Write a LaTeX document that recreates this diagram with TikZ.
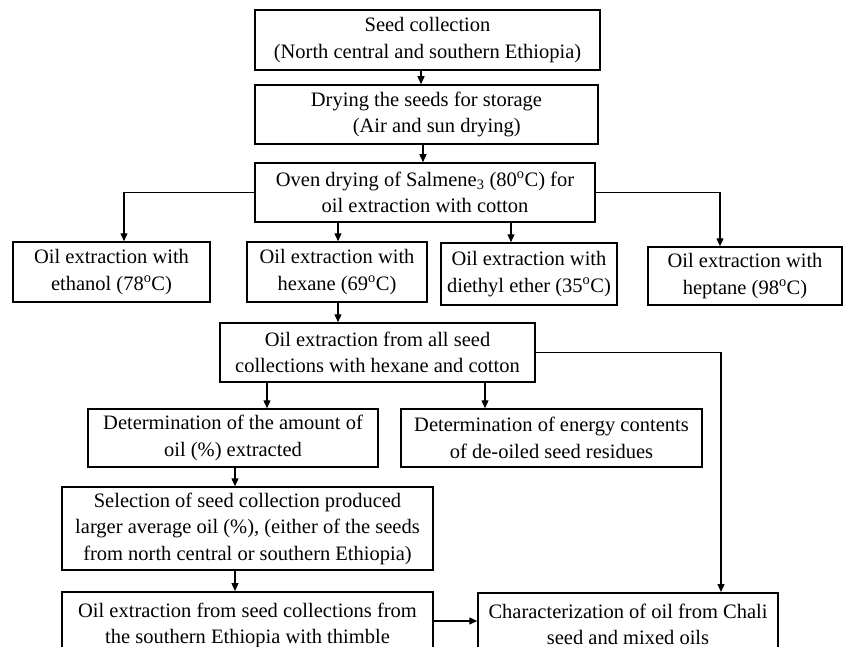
\documentclass[tikz,border=0pt]{standalone}
\usepackage{fontspec}
\setmainfont{Liberation Serif}
\usetikzlibrary{arrows.meta}
\begin{document}
\begin{tikzpicture}[x=1pt,y=-1pt,
  box/.style={draw, line width=1.5pt, align=center, inner sep=2pt, font=\fontsize{20.5}{26.5}\selectfont},
  arr/.style={line width=1.3pt, -{Triangle[length=8pt,width=7pt]}}]
\useasboundingbox (0,0) rectangle (843,647);
\clip (0,0) rectangle (843,647);
\node[box, minimum width=345pt, minimum height=60pt] (seed) at (427.5,40) {Seed collection\\(North central and southern Ethiopia)};
\node[box, minimum width=343pt, minimum height=59pt] (dry) at (426.5,114.5) {Drying the seeds for storage\\ \hspace*{1em}(Air and sun drying)};
\node[box, minimum width=340pt, minimum height=59pt] (oven) at (425,192.5) {Oven drying of Salmene\textsubscript{3} (80\textsuperscript{o}C) for\\oil extraction with cotton};
\node[box, minimum width=197pt, minimum height=60pt] (eth) at (111.5,272) {Oil extraction with\\ethanol (78\textsuperscript{o}C)};
\node[box, minimum width=180pt, minimum height=60pt] (hex) at (337,272) {Oil extraction with\\hexane (69\textsuperscript{o}C)};
\node[box, minimum width=176pt, minimum height=62pt] (die) at (529,274) {Oil extraction with\\diethyl ether (35\textsuperscript{o}C)};
\node[box, minimum width=194pt, minimum height=58pt] (hep) at (745,276) {Oil extraction with\\heptane (98\textsuperscript{o}C)};
\node[box, minimum width=315pt, minimum height=59pt] (all) at (377.5,352.5) {Oil extraction from all seed\\collections with hexane and cotton};
\node[box, minimum width=290pt, minimum height=58pt] (amt) at (233,438) {Determination of the amount of\\oil (\%) extracted};
\node[box, minimum width=301pt, minimum height=58pt] (ene) at (551.5,438) {Determination of energy contents\\of de-oiled seed residues};
\node[box, minimum width=371pt, minimum height=83pt] (sel) at (247.5,528.5) {Selection of seed collection produced\\larger average oil (\%), (either of the seeds\\from north central or southern Ethiopia)};
\node[box, minimum width=371pt, minimum height=90pt, anchor=north] (thm) at (247.5,591) {Oil extraction from seed collections from\\the southern Ethiopia with thimble\\ \mbox{}};
\node[box, minimum width=300pt, minimum height=90pt, anchor=north] (chr) at (628,592) {Characterization of oil from Chali\\seed and mixed oils\\ \mbox{}};
\coordinate (cA) at (421,0);
\coordinate (cB) at (423,0);
\coordinate (cEth) at (124,0);
\coordinate (cHex) at (338,0);
\coordinate (cDie) at (511,0);
\coordinate (cHep) at (720,0);
\coordinate (cChr) at (721,0);
\coordinate (cDa) at (267,0);
\coordinate (cDe) at (485,0);
\coordinate (cSel) at (235,0);
\coordinate (yT) at (0,621);
\draw[arr] (seed.south -| cA) -- (dry.north -| cA);
\draw[arr] (dry.south -| cB) -- (oven.north -| cB);
\draw[arr] (oven.west) -| (eth.north -| cEth);
\draw[arr] (oven.south -| cHex) -- (hex.north -| cHex);
\draw[arr] (oven.south -| cDie) -- (die.north -| cDie);
\draw[arr] (oven.east) -| (hep.north -| cHep);
\draw[arr] (hex.south -| cHex) -- (all.north -| cHex);
\draw[arr] (all.south -| cDa) -- (amt.north -| cDa);
\draw[arr] (all.south -| cDe) -- (ene.north -| cDe);
\draw[arr] (all.east) -| (chr.north -| cChr);
\draw[arr] (amt.south -| cSel) -- (sel.north -| cSel);
\draw[arr] (sel.south -| cSel) -- (thm.north -| cSel);
\draw[arr] (thm.east |- yT) -- (chr.west |- yT);
\end{tikzpicture}
\end{document}
